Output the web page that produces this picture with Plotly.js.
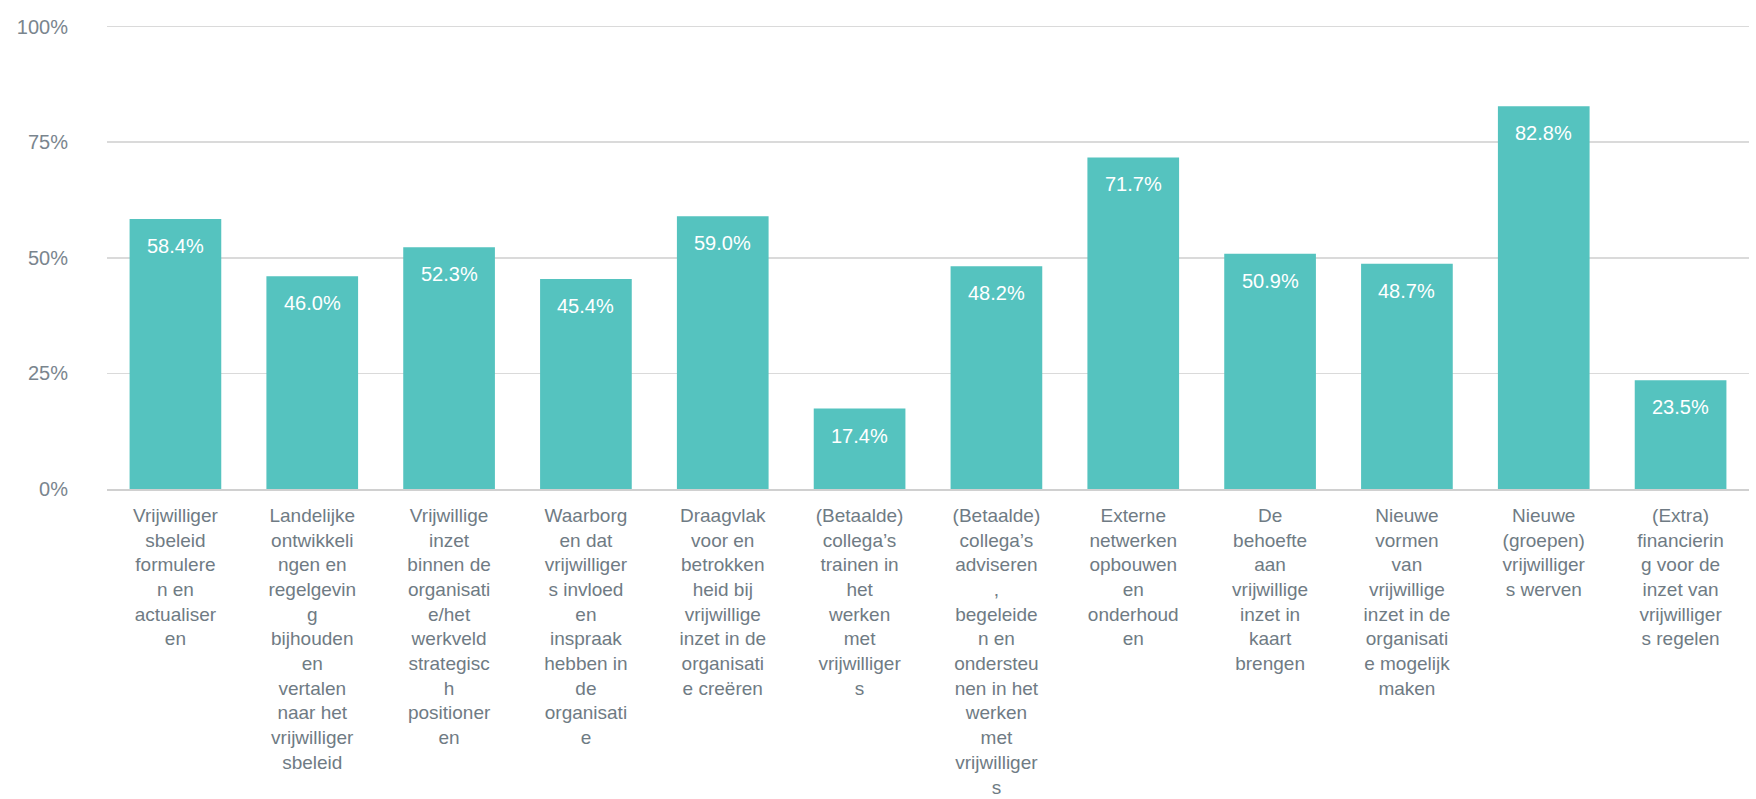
<!DOCTYPE html>
<html>
<head>
<meta charset="utf-8">
<script src="https://cdn.plot.ly/plotly-3.0.1.min.js"></script>
<style>
html,body{margin:0;padding:0;background:#fff;}
#chart{width:1756px;height:799px;}
</style>
</head>
<body>
<div id="chart"></div>
<script>
const categories = [
  "Vrijwilliger<br>sbeleid<br>formulere<br>n en<br>actualiser<br>en",
  "Landelijke<br>ontwikkeli<br>ngen en<br>regelgevin<br>g<br>bijhouden<br>en<br>vertalen<br>naar het<br>vrijwilliger<br>sbeleid",
  "Vrijwillige<br>inzet<br>binnen de<br>organisati<br>e/het<br>werkveld<br>strategisc<br>h<br>positioner<br>en",
  "Waarborg<br>en dat<br>vrijwilliger<br>s invloed<br>en<br>inspraak<br>hebben in<br>de<br>organisati<br>e",
  "Draagvlak<br>voor en<br>betrokken<br>heid bij<br>vrijwillige<br>inzet in de<br>organisati<br>e creëren",
  "(Betaalde)<br>collega’s<br>trainen in<br>het<br>werken<br>met<br>vrijwilliger<br>s",
  "(Betaalde)<br>collega’s<br>adviseren<br>,<br>begeleide<br>n en<br>ondersteu<br>nen in het<br>werken<br>met<br>vrijwilliger<br>s",
  "Externe<br>netwerken<br>opbouwen<br>en<br>onderhoud<br>en",
  "De<br>behoefte<br>aan<br>vrijwillige<br>inzet in<br>kaart<br>brengen",
  "Nieuwe<br>vormen<br>van<br>vrijwillige<br>inzet in de<br>organisati<br>e mogelijk<br>maken",
  "Nieuwe<br>(groepen)<br>vrijwilliger<br>s werven",
  "(Extra)<br>financierin<br>g voor de<br>inzet van<br>vrijwilliger<br>s regelen"
];
const values = [58.4, 46.0, 52.3, 45.4, 59.0, 17.4, 48.2, 71.7, 50.9, 48.7, 82.8, 23.5];
const yTickVals = [0, 25, 50, 75, 100];
const yTickText = ["0%", "25%", "50%", "75%", "100%"];

const font = "Liberation Sans, Arial, Helvetica, sans-serif";

const trace = {
  type: "bar",
  x: categories,
  y: values,
  marker: {color: "#55c3bf"},
  hoverinfo: "none"
};

const annotations = values.map((v, i) => ({
  x: categories[i], y: v, xref: "x", yref: "y",
  text: v.toFixed(1) + "%",
  showarrow: false,
  yanchor: "middle",
  yshift: -27,
  font: {family: font, size: 20, color: "#ffffff"}
}));

const layout = {
  width: 1756, height: 799,
  margin: {l: 107, r: 7, t: 22, b: 310},
  paper_bgcolor: "#ffffff",
  plot_bgcolor: "#ffffff",
  showlegend: false,
  bargap: 0.33,
  font: {family: font, color: "#7a858e"},
  xaxis: {
    type: "category",
    tickangle: 0,
    ticks: "",
    showgrid: false,
    showline: true,
    linecolor: "#d0d0d0",
    linewidth: 2,
    zeroline: false,
    ticklabelstandoff: 8,
    tickfont: {family: font, size: 19, color: "#6f7b84"},
    fixedrange: true
  },
  yaxis: {
    range: [0, 101],
    tickvals: yTickVals,
    ticktext: yTickText,
    ticks: "",
    showgrid: true,
    gridcolor: "#dadada",
    gridwidth: 1.5,
    zeroline: false,
    showline: false,
    ticklabelstandoff: 38,
    tickfont: {family: font, size: 20, color: "#7a858e"},
    fixedrange: true
  },
  annotations: annotations
};

Plotly.newPlot("chart", [trace], layout, {displayModeBar: false, staticPlot: true});
</script>
</body>
</html>
